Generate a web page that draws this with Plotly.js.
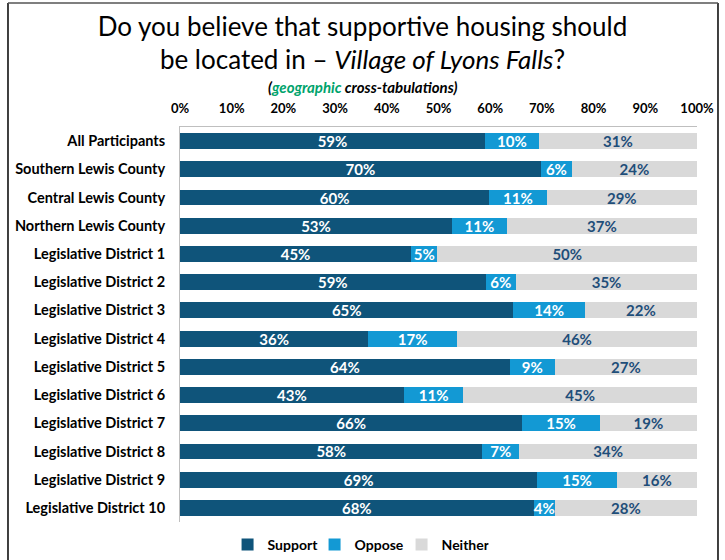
<!DOCTYPE html>
<html>
<head>
<meta charset="utf-8">
<script src="https://cdn.plot.ly/plotly-3.0.1.min.js"></script>
<style>
  html, body { margin: 0; padding: 0; background: #ffffff; }
  #chart { width: 725px; height: 560px; }
</style>
</head>
<body>
<div id="chart"></div>
<script>
const categories = [
  "All Participants",
  "Southern Lewis County",
  "Central Lewis County",
  "Northern Lewis County",
  "Legislative District 1",
  "Legislative District 2",
  "Legislative District 3",
  "Legislative District 4",
  "Legislative District 5",
  "Legislative District 6",
  "Legislative District 7",
  "Legislative District 8",
  "Legislative District 9",
  "Legislative District 10"
];
// bar lengths (percent)
const support = [59.0, 69.8, 59.8, 52.6, 44.7, 59.1, 64.5, 36.4, 63.8, 43.3, 66.2, 58.5, 69.1, 68.4];
const oppose  = [10.4,  6.0, 11.1, 10.6,  5.1,  5.9, 13.8, 17.2,  8.7, 11.5, 15.0,  7.1, 15.4,  4.1];
const neither = [30.6, 24.2, 29.1, 36.8, 50.2, 35.0, 21.7, 46.4, 27.5, 45.2, 18.8, 34.4, 15.5, 27.5];
// printed data labels
const supportLabels = ["59%","70%","60%","53%","45%","59%","65%","36%","64%","43%","66%","58%","69%","68%"];
const opposeLabels  = ["10%","6%","11%","11%","5%","6%","14%","17%","9%","11%","15%","7%","15%","4%"];
const neitherLabels = ["31%","24%","29%","37%","50%","35%","22%","46%","27%","45%","19%","34%","16%","28%"];
const tickVals = [0,10,20,30,40,50,60,70,80,90,100];
const tickLabels = ["0%","10%","20%","30%","40%","50%","60%","70%","80%","90%","100%"];

const FONT = "Lato, 'Open Sans', sans-serif";
const cSupport = "#0F547A";
const cOppose = "#1399D4";
const cNeither = "#D9D9D9";

function series(name, vals, labels, color, txtColor) {
  return {
    type: "bar",
    orientation: "h",
    name: name,
    y: categories,
    x: vals,
    text: labels,
    texttemplate: "%{text}",
    textposition: "inside",
    insidetextanchor: "middle",
    textfont: { family: FONT, size: 15, weight: "bold", color: txtColor },
    marker: { color: color },
    hoverinfo: "skip",
    cliponaxis: false
  };
}

const data = [
  series("Support", support, supportLabels, cSupport, "#FFFFFF"),
  series("Oppose", oppose, opposeLabels, cOppose, "#FFFFFF"),
  series("Neither", neither, neitherLabels, cNeither, "#1F4E79")
];

const layout = {
  width: 725,
  height: 560,
  margin: { l: 180, r: 28, t: 127, b: 38, autoexpand: false },
  paper_bgcolor: "#FFFFFF",
  plot_bgcolor: "#FFFFFF",
  barmode: "stack",
  bargap: 0.44,
  showlegend: true,
  uniformtext: { mode: "show", minsize: 15 },
  title: {
    text: "Do you believe that supportive housing should<br>be located in – <i>Village of Lyons Falls</i>?",
    font: { family: FONT, size: 26, color: "#000000" },
    x: 0.5,
    xanchor: "center",
    yref: "container",
    y: 0.9366,
    yanchor: "top"
  },
  xaxis: {
    side: "top",
    range: [0, 100],
    tickvals: tickVals,
    ticktext: tickLabels,
    tickfont: { family: FONT, size: 13, weight: "bold", color: "#000000" },
    showgrid: false,
    zeroline: false,
    showline: true,
    linecolor: "#BFBFBF",
    linewidth: 1,
    ticks: "outside",
    ticklen: 8,
    tickcolor: "rgba(0,0,0,0)",
    fixedrange: true
  },
  yaxis: {
    autorange: "reversed",
    tickfont: { family: FONT, size: 14.5, weight: "bold", color: "#000000" },
    showgrid: false,
    zeroline: false,
    showline: true,
    linecolor: "#BFBFBF",
    linewidth: 1,
    ticks: "outside",
    ticklen: 11,
    tickcolor: "rgba(0,0,0,0)",
    fixedrange: true
  },
  legend: {
    orientation: "h",
    x: 0.092,
    xanchor: "left",
    y: -0.058,
    yanchor: "middle",
    entrywidth: 42,
    entrywidthmode: "pixels",
    font: { family: FONT, size: 14, weight: "bold", color: "#000000" },
    traceorder: "normal",
    itemclick: false
  },
  annotations: [
    {
      xref: "paper", yref: "paper",
      x: 0.353, y: 1.101,
      xanchor: "center", yanchor: "middle",
      showarrow: false,
      text: "<b><i>(<span style='color:#00A36C'>geographic</span> cross-tabulations)</i></b>",
      font: { family: FONT, size: 15, color: "#000000" }
    }
  ],
  shapes: [
    { type: "line", xref: "paper", yref: "paper", x0: -0.3327, x1: -0.3327, y0: 1.314, y1: -0.2, line: { color: "#000000", width: 1.5 } },
    { type: "line", xref: "paper", yref: "paper", x0: 1.0406, x1: 1.0406, y0: 1.314, y1: -0.2, line: { color: "#000000", width: 1.5 } },
    { type: "line", xref: "paper", yref: "paper", x0: -0.3327, x1: 1.0406, y0: 1.314, y1: 1.314, line: { color: "#555555", width: 1.5 } }
  ]
};

Plotly.newPlot("chart", data, layout, { displayModeBar: false, staticPlot: true });
</script>
</body>
</html>
